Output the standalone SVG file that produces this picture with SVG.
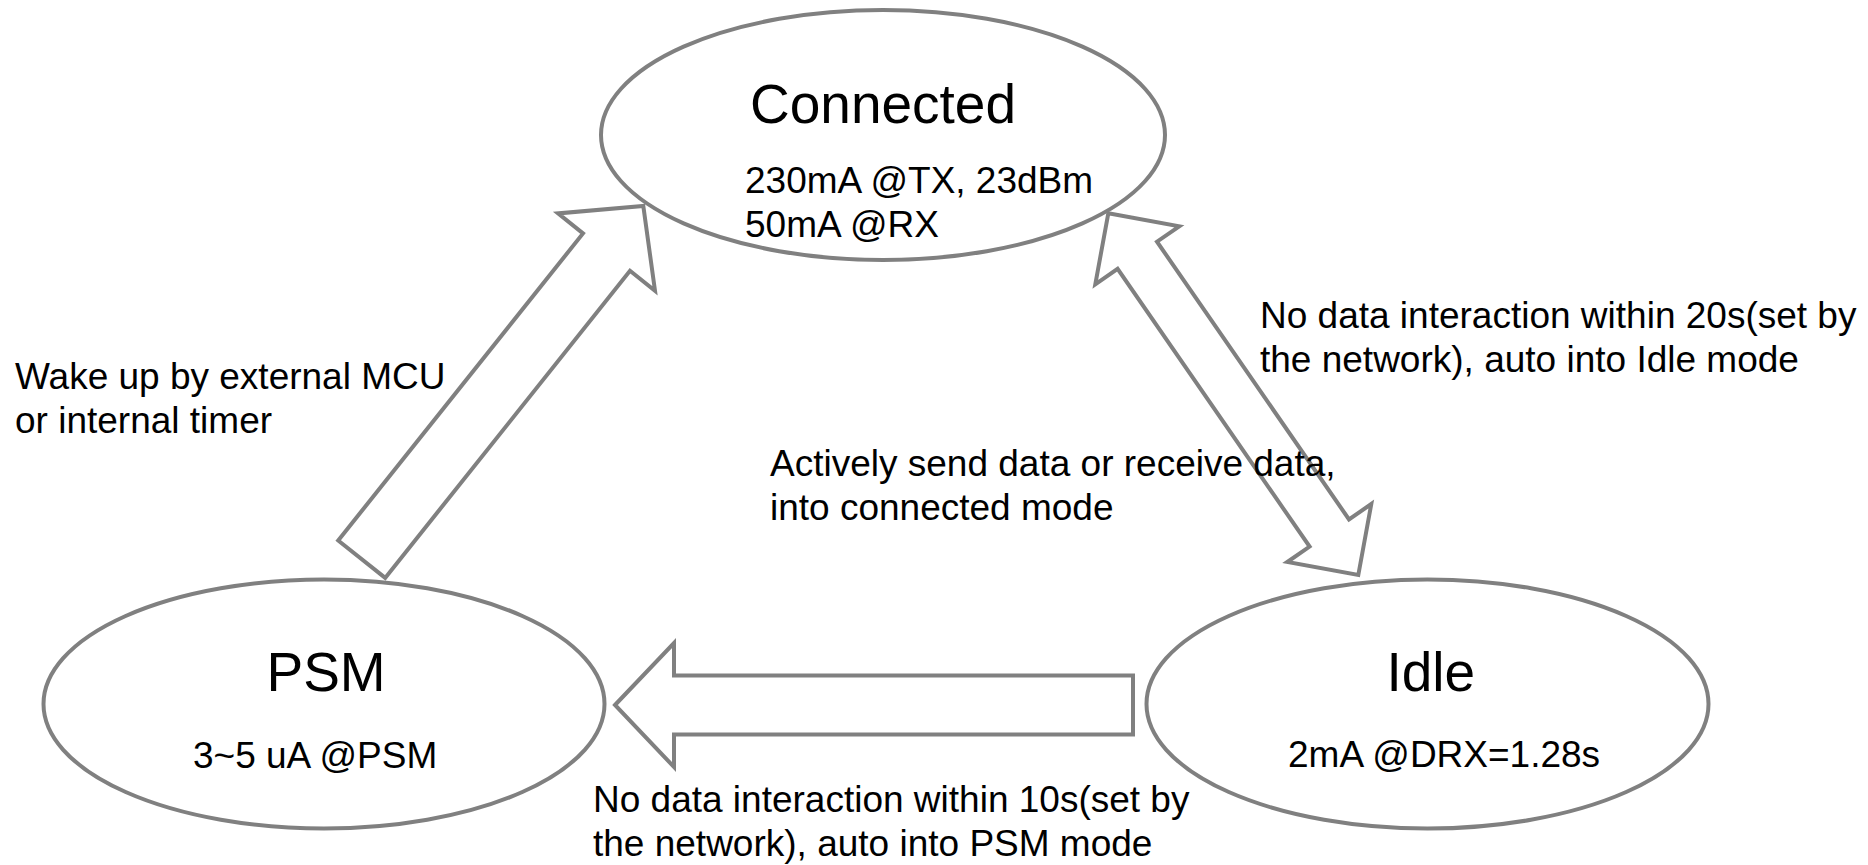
<svg xmlns="http://www.w3.org/2000/svg" width="1868" height="865" viewBox="0 0 1868 865">
<style>
.node{fill:#ffffff;stroke:#808080;stroke-width:4}
.arrow{fill:#ffffff;stroke:#808080;stroke-width:4;stroke-linejoin:miter}
.title{font-family:"Liberation Sans",Arial,sans-serif;font-size:55px;fill:#000000}
.txt{font-family:"Liberation Sans",Arial,sans-serif;font-size:37px;fill:#000000}
</style>
<rect x="0" y="0" width="1868" height="865" fill="#ffffff"/>
<g id="connectors">
<polygon class="arrow" points="338.2,540.5 583,233.4 558,213.4 643.3,206 655,290.8 630,270.8 385.2,577.9"/>
<polygon class="arrow" points="1108.3,213.3 1179.3,226.3 1157,241.7 1349,519.4 1371.3,504 1358.3,575 1287.3,562 1309.6,546.6 1117.6,268.9 1095.3,284.3"/>
<polygon class="arrow" points="615,705 674,643 674,675.5 1133,675.5 1133,734.5 674,734.5 674,767"/>
</g>
<g id="node-connected">
<ellipse class="node" cx="883" cy="135" rx="282" ry="125"/>
<text class="title" x="750" y="123">Connected</text>
<text class="txt" x="745" y="193">230mA @TX, 23dBm</text>
<text class="txt" x="745" y="237">50mA @RX</text>
</g>
<g id="node-psm">
<ellipse class="node" cx="324" cy="704" rx="280.5" ry="124.5"/>
<text class="title" x="266.5" y="691">PSM</text>
<text class="txt" x="193" y="768">3~5 uA @PSM</text>
</g>
<g id="node-idle">
<ellipse class="node" cx="1427.5" cy="704" rx="281" ry="124.5"/>
<text class="title" x="1386.5" y="691">Idle</text>
<text class="txt" x="1288" y="767">2mA @DRX=1.28s</text>
</g>
<g id="labels">
<text class="txt" x="15" y="389">Wake up by external MCU</text>
<text class="txt" x="15" y="433">or internal timer</text>
<text class="txt" x="770" y="476">Actively send data or receive data,</text>
<text class="txt" x="770" y="520">into connected mode</text>
<text class="txt" x="1260" y="328">No data interaction within 20s(set by</text>
<text class="txt" x="1260" y="372">the network), auto into Idle mode</text>
<text class="txt" x="593" y="812">No data interaction within 10s(set by</text>
<text class="txt" x="593" y="856">the network), auto into PSM mode</text>
</g>
</svg>
